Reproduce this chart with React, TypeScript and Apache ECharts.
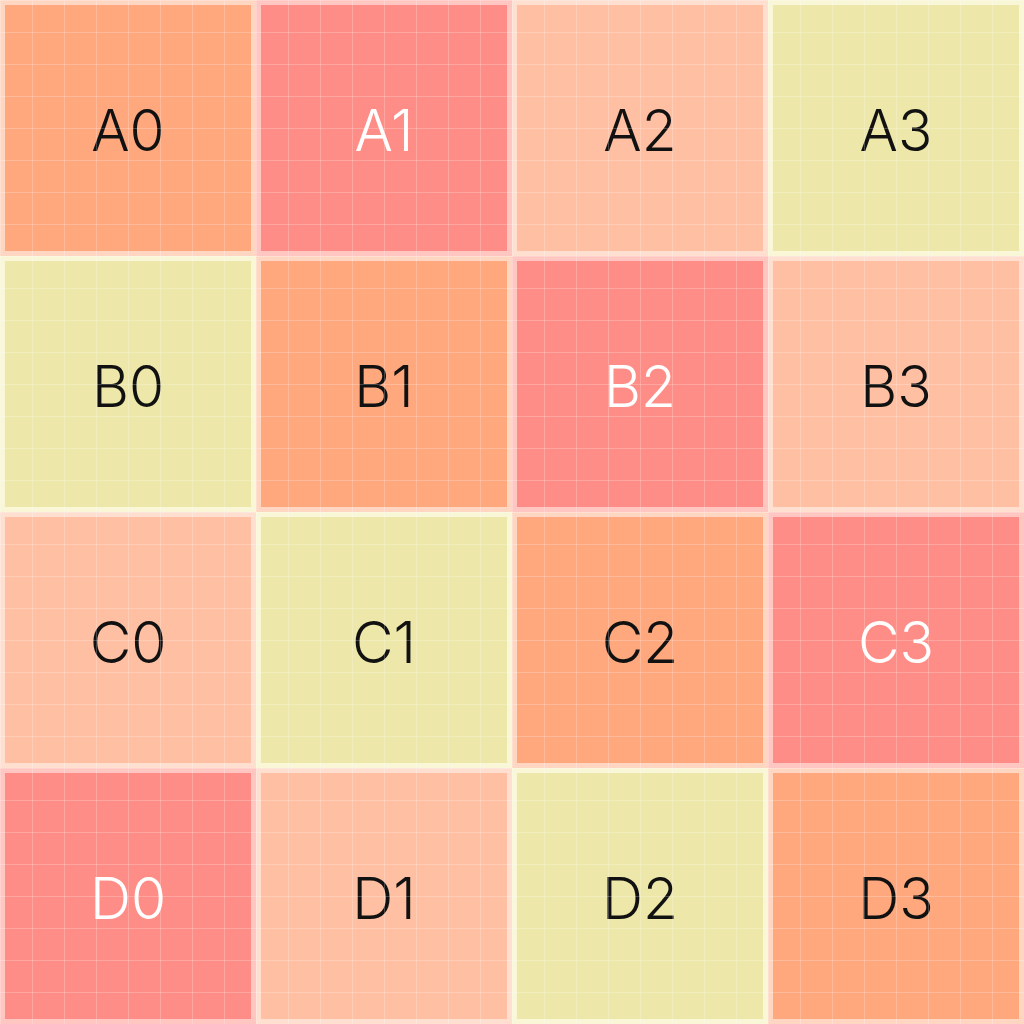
import React, { useEffect, useRef } from "react";
import * as echarts from "echarts";

const rowLabels = ["A", "B", "C", "D"];
const colLabels = ["0", "1", "2", "3"];
// colour group of each cell, row by row (A..D), columns 0..3
const rowA = [0, 1, 2, 3];
const rowB = [3, 0, 1, 2];
const rowC = [2, 3, 0, 1];
const rowD = [1, 2, 3, 0];
const cellGroups = [rowA, rowB, rowC, rowD];

const fillColors = ["#FFA87D", "#FF8D87", "#FFBFA2", "#EDE7A9"];
const bandColors = ["#FFD6C2", "#FFC6C2", "#FFDFD0", "#FAF6D8"];
const textColors = ["#111111", "#FFFFFF", "#111111", "#111111"];

const gridTicks = 32;

export default function App() {
  const ref = useRef<HTMLDivElement>(null);
  useEffect(() => {
    if (!ref.current) return;
    const chart = echarts.init(ref.current, undefined, { renderer: "svg" });
    const data: any[] = [];
    cellGroups.forEach((row, r) => {
      row.forEach((g, c) => {
        data.push([c, r, g, rowLabels[r] + colLabels[c]]);
      });
    });
    chart.setOption({
      animation: false,
      backgroundColor: "#ffffff",
      grid: { left: 0, right: 0, top: 0, bottom: 0 },
      xAxis: [
        {
          type: "category",
          data: colLabels,
          show: false,
        },
        {
          type: "value",
          min: 0,
          max: gridTicks,
          interval: 1,
          position: "top",
          axisLabel: { show: false },
          axisLine: { show: false },
          axisTick: { show: false },
          splitLine: { show: true, lineStyle: { color: "rgba(255,255,255,0.22)", width: 1 } },
          z: 10,
        },
      ],
      yAxis: [
        {
          type: "category",
          data: rowLabels,
          inverse: true,
          show: false,
        },
        {
          type: "value",
          min: 0,
          max: gridTicks,
          interval: 1,
          axisLabel: { show: false },
          axisLine: { show: false },
          axisTick: { show: false },
          splitLine: { show: true, lineStyle: { color: "rgba(255,255,255,0.22)", width: 1 } },
          z: 10,
        },
      ],
      series: [
        {
          type: "custom",
          xAxisIndex: 0,
          yAxisIndex: 0,
          data,
          renderItem: (params: any, api: any) => {
            const center = api.coord([api.value(0), api.value(1)]);
            const size = api.size([1, 1]);
            const g = api.value(2);
            const label = data[params.dataIndex][3];
            const w = size[0];
            const h = size[1];
            const x0 = center[0] - w / 2;
            const y0 = center[1] - h / 2;
            const inset = 5;
            return {
              type: "group",
              children: [
                {
                  type: "rect",
                  shape: { x: x0, y: y0, width: w, height: h },
                  style: { fill: bandColors[g] },
                },
                {
                  type: "rect",
                  shape: { x: x0 + inset, y: y0 + inset, width: w - 2 * inset, height: h - 2 * inset },
                  style: { fill: fillColors[g] },
                },
                {
                  type: "text",
                  x: center[0],
                  y: center[1] + 2,
                  style: {
                    text: label,
                    fill: textColors[g],
                    fontFamily: "Inter",
                    fontSize: 57,
                    fontWeight: 300,
                    align: "center",
                    verticalAlign: "middle",
                  },
                },
              ],
            };
          },
        },
      ],
    });
    return () => chart.dispose();
  }, []);
  return (
    <div
      ref={ref}
      style={{ position: "fixed", left: 0, top: 0, width: 1024, height: 1024 }}
    />
  );
}
